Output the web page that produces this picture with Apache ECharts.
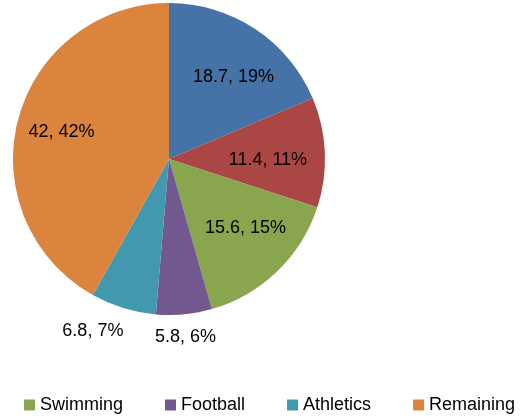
<!DOCTYPE html>
<html>
<head>
<meta charset="utf-8">
<script src="https://cdn.jsdelivr.net/npm/echarts@6/dist/echarts.min.js"></script>
<style>html,body{margin:0;padding:0;background:#fff;}#c{width:525px;height:418px;}</style>
</head>
<body>
<div id="c"></div>
<script>
var categories = ['Category 1', 'Category 2', 'Swimming', 'Football', 'Athletics', 'Remaining'];
var values = [18.7, 11.4, 15.6, 5.8, 6.8, 42];
var colors = ['#4572A7', '#AA4643', '#89A54E', '#71588F', '#4198AF', '#DB843D'];
var legendNames = ['Swimming', 'Football', 'Athletics', 'Remaining'];
var outsideIdx = [3, 4];
// small label nudges (style only)
var labelNudge = { 0: [6, 6], 1: [-7, 6], 2: [3, -7], 3: [-36, 3], 4: [11, 4], 5: [-5, 0] };

var FONT = 'Liberation Sans';
var chart = echarts.init(document.getElementById('c'));

var mainData = categories.map(function (n, i) {
  var isOut = outsideIdx.indexOf(i) >= 0;
  return {
    name: n, value: values[i],
    itemStyle: { color: colors[i] },
    label: { show: isOut }
  };
});
var overlayData = categories.map(function (n, i) {
  var isOut = outsideIdx.indexOf(i) >= 0;
  return {
    name: n, value: values[i],
    itemStyle: { color: 'rgba(0,0,0,0)' },
    label: { show: !isOut }
  };
});

var labelStyle = {
  formatter: '{c}, {d}%',
  color: '#000',
  fontFamily: FONT,
  fontSize: 18
};
function nudge(p) {
  var n = labelNudge[p.dataIndex];
  return n ? { dx: n[0], dy: n[1] } : {};
}

chart.setOption({
  animation: false,
  color: colors,
  legend: {
    data: legendNames,
    top: 396,
    left: 24,
    width: 510,
    padding: 0,
    icon: 'rect',
    itemWidth: 11,
    itemHeight: 11,
    itemGap: 42,
    textStyle: { fontFamily: FONT, fontSize: 18, color: '#000' }
  },
  series: [
    {
      type: 'pie',
      center: [169, 159],
      radius: [0, 156],
      startAngle: 90,
      clockwise: true,
      percentPrecision: 0,
      avoidLabelOverlap: false,
      itemStyle: { borderWidth: 0 },
      emphasis: { disabled: true },
      label: Object.assign({ position: 'outside' }, labelStyle),
      labelLine: { show: false, length: 20, length2: 0 },
      labelLayout: nudge,
      data: mainData
    },
    {
      type: 'pie',
      center: [169, 159],
      radius: [50, 156],
      startAngle: 90,
      clockwise: true,
      percentPrecision: 0,
      silent: true,
      avoidLabelOverlap: false,
      emphasis: { disabled: true },
      label: Object.assign({ position: 'inside' }, labelStyle),
      labelLine: { show: false },
      labelLayout: nudge,
      data: overlayData
    }
  ]
});
</script>
</body>
</html>
